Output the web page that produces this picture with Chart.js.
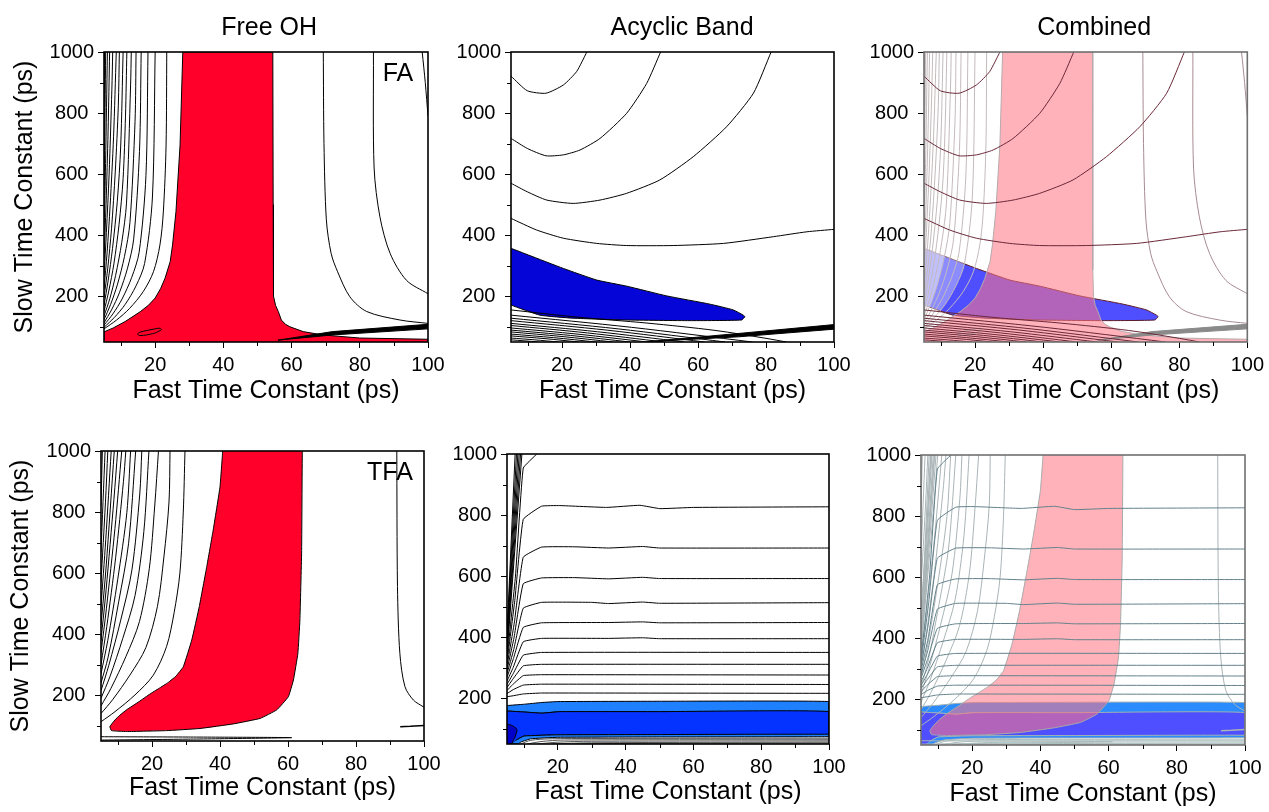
<!DOCTYPE html>
<html>
<head>
<meta charset="utf-8">
<script src="https://cdn.jsdelivr.net/npm/chart.js@4/dist/chart.umd.min.js"></script>
<style>
  body { margin: 0; background: #fff; width: 1269px; height: 812px; position: relative; overflow: hidden; }
  canvas { position: absolute; }
</style>
</head>
<body>
<canvas id="p1" width="458" height="410" style="left:0px;top:0px"></canvas>
<canvas id="p2" width="424" height="410" style="left:440px;top:0px"></canvas>
<canvas id="p3" width="419" height="410" style="left:850px;top:0px"></canvas>
<canvas id="p4" width="454" height="402" style="left:0px;top:410px"></canvas>
<canvas id="p5" width="419" height="402" style="left:440px;top:410px"></canvas>
<canvas id="p6" width="419" height="402" style="left:850px;top:410px"></canvas>
<script>
// ── Axes ──────────────────────────────────────────────────────
const X_MIN = 5, X_MAX = 100, Y_MIN = 50, Y_MAX = 1000;
const xMajor = [20, 40, 60, 80, 100];
const xMinor = [10, 30, 50, 70, 90];
const yMajor = [200, 400, 600, 800, 1000];
const yMinor = [100, 300, 500, 700, 900];

// ── FA, free OH band (x = fast, y = slow) ─────────────────────
const faRedArea = [[5,50],[5,83],[7.7,96],[11.2,117],[15.6,149],[18,170],[20,194],[21.6,225],[22.9,259],[24.4,313],[25.1,368],[26.1,477],[27.3,695],[28.1,1000],
  [54.5,1000],[54.6,500],[54.6,286],[54.8,200],[55.3,170],[56.1,150],[57,122],[58.2,108],[59.5,100],[63.4,84],[69.2,73],[80,63],[100,59],[100,50]];
const faIsland = [[14.8,76],[15.5,82],[20,93],[21.4,95],[21.8,90],[21.2,86],[19.5,78],[15.5,71],[14.8,76]];
const faWedge = [[56,56],[72,84],[100,108],[100,93],[72,73],[56,56]];
const faLeftLines = [
  [[5,93],[8.7,122],[12.5,160],[16.5,215],[19.5,280],[21.4,368],[22.4,476],[23.2,695],[23.4,1000]],
  [[5,98],[8,130],[11.2,173],[14.4,234],[16.9,307],[19.2,525],[20,1000]],
  [[5,105],[7.6,142],[10.3,191],[13.1,261],[15.3,344],[17.3,595],[17.9,1000]],
  [[5,113],[7.2,155],[9.5,211],[11.9,292],[13.7,387],[15.4,674],[15.9,1000]],
  [[5,123],[6.9,172],[8.9,237],[11,330],[12.6,441],[14.1,773],[14.4,1000]],
  [[5,135],[6.7,192],[8.4,268],[10.2,376],[11.6,505],[12.8,892],[13,1000]],
  [[5,150],[6.4,217],[7.9,306],[9.4,434],[10.6,585],[11.3,790],[11.7,1000]],
  [[5,170],[6.2,250],[7.5,357],[8.9,511],[9.9,692],[10.6,1000]],
  [[5,195],[6.1,292],[7.2,421],[8.3,607],[9.2,826],[9.5,1000]],
  [[5,225],[5.9,342],[6.8,498],[7.8,722],[8.6,1000]],
  [[5,265],[5.7,409],[6.5,600],[7.3,876],[7.55,1000]],
  [[5,320],[5.6,501],[6.2,741],[6.65,1000]],
  [[5,400],[5.46,635],[6,1000]],
  [[5,510],[5.32,818],[5.48,1000]],
  [[5,670],[5.16,1000]]
];
const faRightLines = [
  [[69.3,1000],[69.5,700],[70.2,450],[71.6,340],[73.5,280],[77.1,198],[82,150],[91.8,122],[100,111]],
  [[84,1000],[84.2,620],[85.9,460],[88.9,340],[93.7,252],[100,208]],
  [[98.3,1000],[99.2,900],[100,790]]
];

// ── FA, acyclic band ──────────────────────────────────────────
const faBlueArea = [[5,357],[10.1,335],[20.4,291],[30.2,253],[39,233],[50.8,201],[63.5,174],[70.4,155],[73.3,138],[73.8,133],
  [72.8,122],[57.6,120],[39,122],[23.3,128],[13.5,138],[5,171]];
const faUpperLines = [
  [[5,921],[9.8,873],[15.3,865],[20.4,892],[24.3,936],[27.3,1000]],
  [[5,717],[9.8,684],[15.3,660],[20.4,663],[25.3,679],[31.2,717],[39,799],[44.9,897],[49,1000]],
  [[5,570],[9.8,542],[15.5,515],[23.3,504],[31.2,515],[39,537],[48.8,581],[58.6,657],[68.4,755],[76.3,865],[81.5,1000]],
  [[5,455],[12.5,417],[20.4,390],[30.2,373],[39,366],[52.7,366],[67.5,373],[82.2,395],[92,411],[100,419]]
];
const faLowerLines = [
  [[5,155],[25,131],[45,112],[65,88],[80,62],[86,50]],
  [[5,138],[40.5,98],[76,50]],
  [[5,128],[36.5,93],[68,50]],
  [[5,120],[33.5,88.5],[62,50]],
  [[5,111],[30.5,83.5],[56,50]],
  [[5,104],[27.5,79.7],[50,50]],
  [[5,96],[25,75.3],[45,50]],
  [[5,89],[22.5,71.5],[40,50]],
  [[5,83],[20,68],[35,50]],
  [[5,76],[17.5,64.3],[30,50]],
  [[5,70],[15,61],[25,50]],
  [[5,63],[12,57],[19,50]],
  [[5,57],[9,53.8],[13,50]]
];
const faAcyWedge = [[45,51],[72,78],[100,107],[100,92],[72,67],[45,51]];

// ── TFA, free OH band ─────────────────────────────────────────
const tfaRedArea = [[40.8,1000],[40,883],[38,741],[36.1,621],[33.9,490],[31.7,381],[29.2,293],[27,262],[24.8,242],[22,222],[19.4,204],[16.2,179],[12.5,152],
  [10.5,134],[9.1,119],[7.6,97],[8.1,84],[12.5,81],[24.3,84],[34.1,91],[43.9,106],[51.8,124],[56.7,152],[60.1,195],[61.6,250],[62.9,337],
  [63.5,446],[64,665],[64.2,1000]];
const tfaLeftLines = [
  [[5,113],[9.1,146],[15,201],[20.4,266],[24.3,360],[26.5,470],[28.2,600],[29.2,800],[29.7,1000]],
  [[5,140],[8.4,185],[13.5,266],[18.2,356],[21.6,491],[23.5,653],[25,833],[25.3,1000]],
  [[5,165],[7.9,222],[12.3,326],[16.3,441],[19.2,614],[20.8,820],[21.9,1000]],
  [[5,190],[7.6,260],[11.4,386],[15,526],[17.6,736],[19.1,1000]],
  [[5,215],[7.3,298],[10.8,446],[14.1,611],[16.4,859],[17,1000]],
  [[5,240],[7.1,325],[10.2,506],[13.1,696],[15.2,1000]],
  [[5,270],[7,380],[9.9,578],[12.6,798],[13.7,1000]],
  [[5,300],[6.7,425],[9.3,650],[11.6,900],[12.3,1000]],
  [[5,340],[6.6,485],[9.1,746],[11.1,1000]],
  [[5,380],[6.5,545],[8.8,842],[9.9,1000]],
  [[5,430],[6.5,620],[8.9,1000]],
  [[5,490],[6.4,710],[8,1000]],
  [[5,570],[6.3,830],[7,1000]],
  [[5,670],[6.2,1000]],
  [[5,820],[5.4,1000]]
];
const tfaRightLine = [[92,1000],[92.2,556],[92.9,337],[94.4,228],[96.9,184],[99.8,162],[100,161]];
const tfaStub = [[93,97],[96,98],[100,101]];
const tfaSliver = [[5,64],[30,63],[61.1,61],[30,56],[5,53]];

// ── TFA, acyclic band ─────────────────────────────────────────
const tfaBandLight = [[5,176],[9.8,180],[15.3,186],[20,189],[50,190],[100,189],[100,156],[50,156],[20.6,156],[15.3,151],[9.8,155],[5,158]];
const tfaBandDark = [[5,158],[9.8,155],[15.3,151],[20.6,156],[50,156],[100,156],[100,82],[50,81],[20,80],[10,76],[7.6,62],[6.4,50],[5,50]];
const tfaBlob = [[5,115],[6.4,111],[7.9,98],[7.6,80],[7,65],[6.2,50],[5,50]];
const tfaStripe = [[7.6,62],[10,76],[20,80],[50,81],[100,82],[100,74],[50,73],[20,72],[12,67],[9.2,57],[8.2,50],[6.4,50]];
const tfaLevelLines = [
  [[5,330],[7.5,600],[9.8,954],[13.8,1000]],
  [[5,318],[7.3,520],[9.8,786],[15.2,829],[20.6,831],[34.4,825],[44.2,832],[50.1,821],[60,825],[100,827]],
  [[5,305],[7.2,450],[9.8,662],[15.2,695],[25,696],[35,692],[45,697],[50,692],[100,692]],
  [[5,292],[7.1,400],[9.8,575],[15.2,594],[25,595],[35,591],[45,596],[50,592],[100,592]],
  [[5,280],[7,360],[9.8,495],[15.2,514],[30,514],[35,510],[45,515],[50,511],[100,513]],
  [[5,268],[6.9,330],[9.8,432],[15.2,447],[35,448],[45,450],[50,447],[100,448]],
  [[5,256],[6.8,300],[9.8,385],[15.2,396],[35,396],[45,398],[50,395],[100,395]],
  [[5,245],[6.8,280],[9.8,341],[15.2,350],[100,350]],
  [[5,235],[6.7,262],[9.8,306],[15.2,311],[100,311]],
  [[5,225],[6.7,245],[9.8,274],[15.2,277],[100,276]],
  [[5,215],[6.8,228],[9.8,243],[15.2,246],[100,245]],
  [[5,205],[6.8,208],[9.8,214],[15.2,217],[100,216]]
];
const tfaEdgeLines = [
  [[5,342],[9.4,1000]],
  [[5,355],[9.0,1000]],
  [[5,368],[8.6,1000]],
  [[5,382],[8.2,1000]],
  [[5,396],[7.8,1000]],
  [[5,410],[7.4,1000]]
];
const tfaFloorLines = [
  [[9,50],[12,62],[18,67],[30,68],[100,69]],
  [[11,50],[15,58],[22,63],[100,64]],
  [[14,50],[20,56],[30,59],[100,60]],
  [[18,50],[30,54],[100,56]],
  [[25,50],[40,52],[100,53]]
];

// ── Styling ───────────────────────────────────────────────────
const FONT = '"Liberation Sans", Arial, Helvetica, sans-serif';
const RED = '#ff002b';
const PINK = 'rgba(255,118,132,0.56)';
const BLUE_FA = '#0505d8';
const BLUE_MIX = '#4f4fff';

const pts = a => a.map(([x, y]) => ({ x, y }));

function line(data, color, width = 1, tension = 0.3) {
  return { data: pts(data), showLine: true, borderColor: color, borderWidth: width,
    pointRadius: 0, tension, fill: false };
}
function area(data, fillColor, edgeColor, width = 1, tension = 0) {
  return { data: pts(data), showLine: true, borderColor: edgeColor, borderWidth: width,
    backgroundColor: fillColor, pointRadius: 0, tension, fill: 'shape' };
}
// region between a contour and the left/top corner of the plot
const cornerShape = l => [...l, [X_MIN, Y_MAX]];

// frame box + minor ticks
const framePlugin = {
  id: 'frame',
  afterDatasetsDraw(chart, args, opts) {
    const { ctx, chartArea: a, scales: { x, y } } = chart;
    ctx.save();
    ctx.strokeStyle = opts.color;
    ctx.lineWidth = 1.6;
    ctx.strokeRect(a.left, a.top, a.right - a.left, a.bottom - a.top);
    ctx.lineWidth = 1;
    ctx.strokeStyle = '#000';
    ctx.beginPath();
    xMinor.forEach(v => {
      const px = Math.round(x.getPixelForValue(v)) + 0.5;
      ctx.moveTo(px, a.bottom); ctx.lineTo(px, a.bottom + 4);
    });
    yMinor.forEach(v => {
      const py = Math.round(y.getPixelForValue(v)) + 0.5;
      ctx.moveTo(a.left, py); ctx.lineTo(a.left - 4, py);
    });
    ctx.stroke();
    ctx.restore();
  }
};

// titles and in-plot labels, placed in data units
const labelPlugin = {
  id: 'labels',
  afterDraw(chart, args, opts) {
    const { ctx, scales: { x, y } } = chart;
    ctx.save();
    ctx.fillStyle = '#000';
    ctx.textAlign = 'center';
    ctx.textBaseline = 'middle';
    ctx.font = '25px ' + FONT;
    (opts.items || []).forEach(it => {
      ctx.fillText(it.text, x.getPixelForValue(it.x), y.getPixelForValue(it.y));
    });
    ctx.restore();
  }
};

function makePanel(id, box, cfg) {
  const canvas = document.getElementById(id);
  const yAxisW = cfg.area.l - box.left;
  const xAxisH = box.top + box.height - cfg.area.b;
  const tickFont = { size: 20, family: FONT };
  const titleFont = { size: 25, family: FONT };

  new Chart(canvas, {
    type: 'scatter',
    data: { datasets: cfg.layers.slice().reverse() },
    options: {
      responsive: false,
      animation: false,
      devicePixelRatio: 1,
      events: [],
      layout: { padding: { left: 0, bottom: 0, top: cfg.area.t - box.top, right: box.left + box.width - cfg.area.r } },
      plugins: {
        legend: { display: false },
        tooltip: { enabled: false },
        frame: { color: cfg.frameColor || '#000' },
        labels: { items: cfg.texts }
      },
      scales: {
        x: {
          type: 'linear', position: 'bottom', min: X_MIN, max: X_MAX,
          afterBuildTicks: s => { s.ticks = xMajor.map(value => ({ value })); },
          afterFit: s => { s.height = xAxisH; },
          grid: { drawOnChartArea: false, drawTicks: true, tickLength: 6, color: '#000', lineWidth: 1 },
          border: { display: false },
          ticks: { font: tickFont, color: '#000', padding: 5, maxRotation: 0, autoSkip: false, callback: v => String(v) },
          title: { display: true, text: 'Fast Time Constant (ps)', font: titleFont, color: '#000',
            padding: { top: 0, bottom: cfg.xTitlePad } }
        },
        y: {
          type: 'linear', position: 'left', min: Y_MIN, max: Y_MAX,
          afterBuildTicks: s => { s.ticks = yMajor.map(value => ({ value })); },
          afterFit: s => { s.width = yAxisW; },
          grid: { drawOnChartArea: false, drawTicks: true, tickLength: 6, color: '#000', lineWidth: 1 },
          border: { display: false },
          ticks: { font: tickFont, color: '#000', padding: 4, crossAlign: 'center', autoSkip: false, callback: v => String(v) },
          title: { display: !!cfg.yTitle, text: 'Slow Time Constant (ps)', font: titleFont, color: '#000',
            padding: { top: cfg.yTitlePad || 0, bottom: 0 } }
        }
      }
    },
    plugins: [framePlugin, labelPlugin]
  });
}

// ── Layer lists (bottom first) ────────────────────────────────
function faFreeLayers(edge, leftColor, rightColor, fill, wedgeColor) {
  return [
    area(faRedArea, fill, edge),
    line(faIsland, edge, 1, 0.4),
    area(faWedge, wedgeColor, wedgeColor),
    ...faLeftLines.map(l => line(l, leftColor)),
    ...faRightLines.map(l => line(l, rightColor))
  ];
}
function faAcyLines(color) {
  return [
    ...faUpperLines.map(l => line(l, color, 1, 0.2)),
    ...faLowerLines.map(l => line(l, color, 1, 0.3)),
  ];
}
function tfaFreeLines(color) {
  return [
    ...tfaLeftLines.map(l => line(l, color)),
    line(tfaRightLine, color),
    line(tfaStub, color, 1.5, 0),
    line(tfaSliver, color, 1, 0.2)
  ];
}
function tfaAcyLines(color, edgeColor, floorColor) {
  return [
    ...tfaFloorLines.map(l => line(l, floorColor, 1, 0.3)),
    ...tfaEdgeLines.map(l => line(l, edgeColor, 1, 0)),
    ...tfaLevelLines.map(l => line(l, color, 1, 0.1))
  ];
}

// Panel 1: FA free OH
makePanel('p1', { left: 0, top: 0, width: 458, height: 410 }, {
  area: { l: 104, t: 52, r: 428, b: 342 }, xTitlePad: 4, yTitle: true, yTitlePad: 10,
  texts: [{ text: 'Free OH', x: 53.4, y: 1078 }, { text: 'FA', x: 91.2, y: 929 }],
  layers: faFreeLayers('#000', '#000', '#000', RED, '#000')
});

// Panel 2: FA acyclic band
makePanel('p2', { left: 440, top: 0, width: 424, height: 410 }, {
  area: { l: 511, t: 52, r: 834, b: 342 }, xTitlePad: 4,
  texts: [{ text: 'Acyclic Band', x: 55.3, y: 1078 }],
  layers: [
    area(faBlueArea, BLUE_FA, '#000', 1, 0.15),
    ...faAcyLines('#000'),
    area(faAcyWedge, '#000', '#000')
  ]
});

// Panel 3: FA combined
makePanel('p3', { left: 850, top: 0, width: 419, height: 410 }, {
  area: { l: 924, t: 52, r: 1248, b: 342 }, xTitlePad: 4, frameColor: '#707070',
  texts: [{ text: 'Combined', x: 55, y: 1078 }],
  layers: [
    area(faBlueArea, BLUE_MIX, '#5a1a28', 1, 0.15),
    area(cornerShape(faLeftLines[1]), 'rgba(255,255,255,0.35)', 'rgba(0,0,0,0)', 0, 0.3),
    area(cornerShape(faLeftLines[4]), 'rgba(255,255,255,0.45)', 'rgba(0,0,0,0)', 0, 0.3),
    ...faFreeLayers('#b7a9ac', '#c4babc', '#a78c91', PINK, '#8a8a8a'),
    ...faAcyLines('#6a2838')
  ]
});

// Panel 4: TFA free OH
makePanel('p4', { left: 0, top: 410, width: 454, height: 402 }, {
  area: { l: 101, t: 451, r: 424, b: 741 }, xTitlePad: 9, yTitle: true, yTitlePad: 6,
  texts: [{ text: 'TFA', x: 90, y: 929 }],
  layers: [
    area(tfaRedArea, RED, '#000', 1, 0.1),
    ...tfaFreeLines('#000')
  ]
});

// Panel 5: TFA acyclic band
makePanel('p5', { left: 440, top: 410, width: 419, height: 402 }, {
  area: { l: 507, t: 454, r: 829, b: 744 }, xTitlePad: 5,
  texts: [],
  layers: [
    area(tfaBandLight, '#1f80ff', '#000', 1, 0.1),
    area(tfaBandDark, '#0433ff', '#000', 1, 0.1),
    area(tfaBlob, '#0000c8', '#000', 1, 0.3),
    area(tfaStripe, '#1f80ff', '#000', 1, 0.1),
    ...tfaAcyLines('#000', '#000', '#555')
  ]
});

// Panel 6: TFA combined
makePanel('p6', { left: 850, top: 410, width: 419, height: 402 }, {
  area: { l: 921, t: 455, r: 1245, b: 745 }, xTitlePad: 3, frameColor: '#707070',
  texts: [],
  layers: [
    area(tfaBandLight, '#2b8cff', '#9fb0b2', 1, 0.1),
    area(tfaBandDark, BLUE_MIX, '#9fb0b2', 1, 0.1),
    area(tfaStripe, '#2b8cff', '#9fb0b2', 1, 0.1),
    area(tfaRedArea, PINK, '#a8a8a8', 1, 0.1),
    ...tfaFreeLines('#a9b4b6'),
    ...tfaAcyLines('#62808a', '#a9b4b6', '#a9bcbc')
  ]
});
</script>
</body>
</html>
